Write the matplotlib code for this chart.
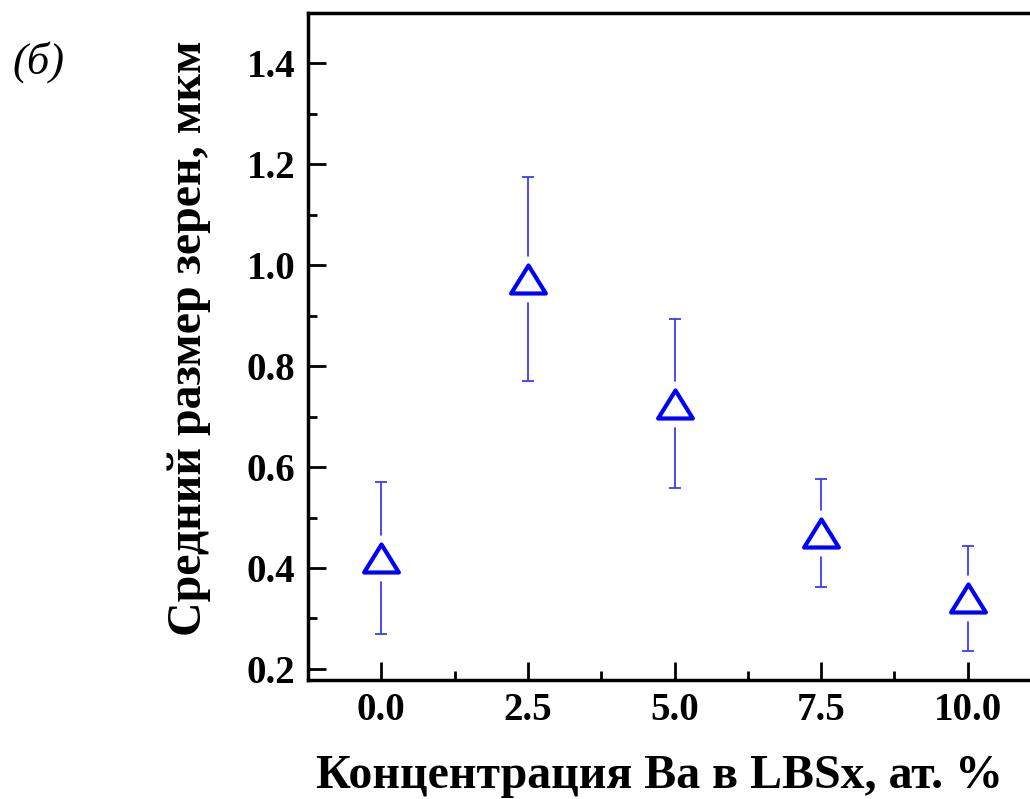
import matplotlib
matplotlib.use("Agg")
import matplotlib.pyplot as plt
from matplotlib.ticker import MultipleLocator, FormatStrFormatter
from matplotlib.path import Path

ba_conc = [0.0, 2.5, 5.0, 7.5, 10.0]
grain_size = [0.42, 0.972, 0.726, 0.469, 0.340]
grain_err = [0.150, 0.202, 0.168, 0.107, 0.104]

xlabel = "Концентрация Ва в LBSx, ат. %"
ylabel = "Средний размер зерен, мкм"
panel = "(б)"

plt.rcParams['font.family'] = ['Liberation Serif', 'DejaVu Serif']

fig = plt.figure(figsize=(10.30, 7.99), dpi=100)
ax = fig.add_axes([308/1030, 1 - 680/799, (1041 - 308)/1030, (680 - 13)/799])

tri = Path([(0, 0.5), (-0.62, -0.5), (0.62, -0.5), (0, 0.5)],
           [Path.MOVETO, Path.LINETO, Path.LINETO, Path.CLOSEPOLY])

ax.errorbar(ba_conc, grain_size, yerr=grain_err, fmt='none', ecolor='#3b3bff',
            elinewidth=1.3, capsize=4.5, capthick=1.3, zorder=2)
ax.plot(ba_conc, grain_size, linestyle='none', marker='o', markersize=33,
        markerfacecolor='white', markeredgecolor='none', zorder=3)
ax.plot(ba_conc, grain_size, linestyle='none', marker=tri, markersize=25,
        markerfacecolor='white', markeredgecolor='#0000ff', markeredgewidth=3, zorder=4)

ax.set_xlim(-1.25, 11.25)
ax.set_ylim(0.178, 1.5)
ax.xaxis.set_major_locator(MultipleLocator(2.5))
ax.xaxis.set_minor_locator(MultipleLocator(1.25))
ax.yaxis.set_major_locator(MultipleLocator(0.2))
ax.yaxis.set_minor_locator(MultipleLocator(0.1))
ax.xaxis.set_major_formatter(FormatStrFormatter('%.1f'))
ax.yaxis.set_major_formatter(FormatStrFormatter('%.1f'))

ax.tick_params(which='both', direction='in', top=False, right=False, width=2)
ax.tick_params(which='major', length=13, labelsize=28, pad=9)
ax.tick_params(which='minor', length=6.5)
for lab in ax.get_xticklabels() + ax.get_yticklabels():
    lab.set_fontweight('bold')
for s in ax.spines.values():
    s.set_linewidth(2.5)

ax.set_xlabel(xlabel, fontsize=34.5, fontweight='bold', labelpad=18)
ax.set_ylabel(ylabel, fontsize=34.5, fontweight='bold', labelpad=26)
ax.xaxis.label.set_x(0.479)
ax.yaxis.label.set_y(0.513)

fig.text(12/1030, 1 - 74/799, panel, fontsize=32, style='italic', ha='left', va='baseline')

fig.savefig('out.png', dpi=100)
